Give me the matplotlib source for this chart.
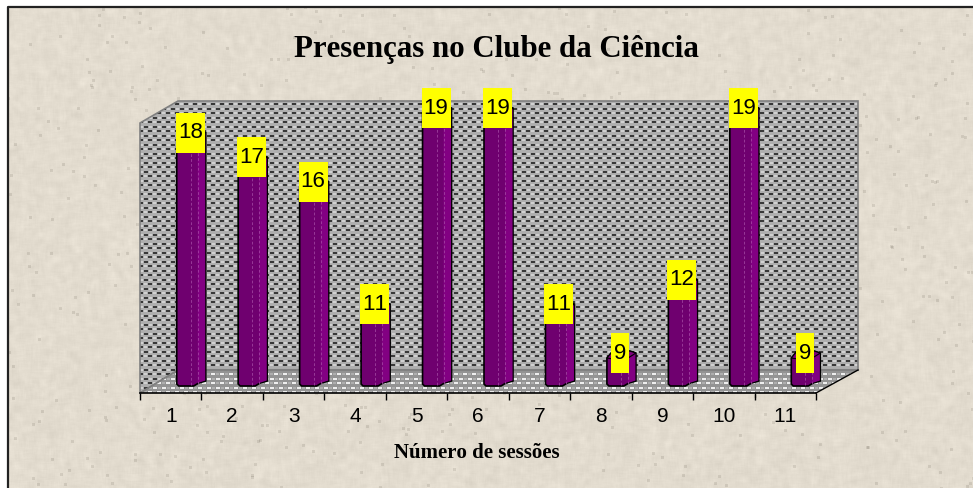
#!/usr/bin/env python3
# Presencas no Clube da Ciencia - fake 3D column chart
import numpy as np
import matplotlib
matplotlib.use("Agg")
from matplotlib import pyplot as plt
from matplotlib.patches import Polygon, Rectangle

plt.rcParams["text.kerning_factor"] = 16   # the original has no kerning, "11" stays wide

sessions = [1, 2, 3, 4, 5, 6, 7, 8, 9, 10, 11]
presences = [18, 17, 16, 11, 19, 19, 11, 9, 12, 19, 9]
title = "Presenças no Clube da Ciência"
xlabel = "Número de sessões"

W, H = 973, 488
AX_L, AX_R, AX_BOTTOM, AX_TOP = 140, 816, 393, 123
BASE_Y = 386      # pixel row of the bars' foot
PX_PER_UNIT = 24.5
AXIS_MIN = 7.86

# paper background, no np.random, just a hash of the pixel position
def fract(a):
    return a - np.floor(a)

def blur(a, n):
    out = np.zeros_like(a)
    for i in range(-n, n + 1):
        for j in range(-n, n + 1):
            out += np.roll(np.roll(a, i, 0), j, 1)
    return out / (2 * n + 1) ** 2

yy, xx = np.mgrid[0:H, 0:W]
noise = fract(np.sin(xx * 12.9898 + yy * 78.233) * 43758.5453)
mottle = blur(noise, 3) - 0.5
specks = blur((noise > 0.9985).astype(float), 1)
paper = np.ones((H, W, 3)) * np.array([227, 220, 207])
paper += (mottle * 60 - specks * 180)[:, :, None]
paper[:7, :] = 255
paper[:, :8] = 255
paper = np.clip(paper, 0, 255).astype(np.uint8)

# staggered dash pattern of the chart walls, about 9 px across and 4.5 px down
def tile_image(w, h, base, dash, spot):
    img = np.full((h, w), base, dtype=float)
    for n, row in enumerate(np.arange(0, h, 4.5).astype(int)):
        shift = 0 if n % 2 == 0 else 4
        for col in range(0, w + 9, 9):
            left = col + shift - 9
            img[row:row + 2, max(left, 0):max(left + 4, 0)] = dash
            img[row:row + 2, max(left + 5, 0):max(left + 8, 0)] = spot
    return img

fig = plt.figure(figsize=(W / 100, H / 100), dpi=100)

# backdrop axes in pixel coordinates: paper, frame, walls and floor
bg = fig.add_axes([0, 0, 1, 1], zorder=0)
bg.imshow(paper, extent=(0, W, H, 0), interpolation="nearest", aspect="auto")

wall_pts = [(140, 393), (140, 123), (178, 101), (858, 101), (858, 370), (178, 370)]
floor_pts = [(140, 393), (178, 370), (858, 370), (816, 393)]
wall = bg.imshow(tile_image(W, H, 0.68, 0.22, 0.82), cmap="gray", vmin=0, vmax=1,
                 extent=(0, W, H, 0), interpolation="nearest", aspect="auto")
wall.set_clip_path(Polygon(wall_pts, transform=bg.transData))
floor = bg.imshow(tile_image(W, H, 0.58, 0.93, 0.68), cmap="gray", vmin=0, vmax=1,
                  extent=(0, W, H, 0), interpolation="nearest", aspect="auto")
floor.set_clip_path(Polygon(floor_pts, transform=bg.transData))

bg.add_patch(Polygon(wall_pts, closed=True, fill=False, ec="#808080", lw=1.2))
bg.plot([140, 178], [393, 370], color="#808080", lw=1)
bg.plot([178, 858], [370, 370], color="#808080", lw=1.5)
bg.plot([816, 858], [393, 370], color="black", lw=1)
bg.plot([8, 8, W], [H, 7, 7], color="#222222", lw=1.6)
bg.set_xlim(0, W)
bg.set_ylim(H, 0)
bg.axis("off")

# real chart axes, sitting on the front plane of the fake 3D box
ax = fig.add_axes([AX_L / W, 1 - AX_BOTTOM / H, (AX_R - AX_L) / W, (AX_BOTTOM - AX_TOP) / H],
                  zorder=1)
ax.patch.set_alpha(0)
ax.set_xlim(0.5, 11.5)
px_x = (AX_R - AX_L) / 11
ymin = AXIS_MIN - (AX_BOTTOM - BASE_Y) / PX_PER_UNIT
ax.set_ylim(ymin, ymin + (AX_BOTTOM - AX_TOP) / PX_PER_UNIT)

def X(cat, px):
    return cat + px / px_x

def Y(val, px):
    # px counts upward on the picture
    return val + px / PX_PER_UNIT

BAR_LEFT = 6      # px from the category centre on the front plane
for cat, val in zip(sessions, presences):
    x0 = cat + BAR_LEFT / px_x
    outline = [(X(x0, 0), Y(val, 0)), (X(x0, 0), Y(AXIS_MIN, 2)), (X(x0, 2), Y(AXIS_MIN, 0)),
               (X(x0, 17), Y(AXIS_MIN, 0)), (X(x0, 22), Y(AXIS_MIN, 3)), (X(x0, 29), Y(AXIS_MIN, 5)),
               (X(x0, 29), Y(val, 5)), (X(x0, 23), Y(val, 7)), (X(x0, 5), Y(val, 6))]
    ax.add_patch(Polygon(outline, closed=True, fc="#6f006f", ec="black", lw=1.2, zorder=3,
                         clip_on=False))
    side = [(X(x0, 21), Y(val, 0)), (X(x0, 21), Y(AXIS_MIN, 3)), (X(x0, 28.5), Y(AXIS_MIN, 5.5)),
            (X(x0, 28.5), Y(val, 5))]
    ax.add_patch(Polygon(side, closed=True, fc="#820082", ec="none", zorder=3.1, clip_on=False))
    top = [(X(x0, 0), Y(val, 0)), (X(x0, 5), Y(val, 6)), (X(x0, 23), Y(val, 7)),
           (X(x0, 29), Y(val, 5)), (X(x0, 21), Y(val, 0)), (X(x0, 8), Y(val, -1))]
    ax.add_patch(Polygon(top, closed=True, fc="#7d007d", ec="black", lw=0.8, zorder=3.2,
                         clip_on=False))
    ax.plot([X(x0, 14), X(x0, 14)], [Y(AXIS_MIN, 1), Y(val, 0)], color="#a850a8",
            lw=0.5, ls=(0, (4, 3)), zorder=3.3, clip_on=False)
    ax.plot([X(x0, 21), X(x0, 21)], [Y(AXIS_MIN, 2), Y(val, 0)], color="#a850a8",
            lw=0.5, ls=(0, (4, 3)), zorder=3.3, clip_on=False)

    # yellow value label, narrower for one digit
    box_w = 29 if val >= 10 else 18
    cx = X(x0, 13.5)
    ax.add_patch(Rectangle((X(cx, -box_w / 2), Y(val, -15)), box_w / px_x, 40 / PX_PER_UNIT,
                           fc="#ffff00", ec="none", zorder=4, clip_on=False))
    ax.text(cx, Y(val, 5), str(val), ha="center", va="center", fontsize=16,
            family="Liberation Sans", color="black", zorder=5, clip_on=False)

for s in ["top", "right", "left"]:
    ax.spines[s].set_visible(False)
ax.spines["bottom"].set_color("black")
ax.spines["bottom"].set_linewidth(1.2)
ax.set_yticks([])
ax.set_xticks(sessions)
ax.set_xticklabels(sessions, fontsize=15, family="Liberation Sans")
ax.set_xticks(np.arange(0.5, 12), minor=True)
ax.tick_params(axis="x", which="major", length=0, pad=10)
ax.tick_params(axis="x", which="minor", length=5, width=1, color="black", direction="out")

fig.text(496 / W, 1 - 49 / H, title, ha="center", va="center", fontsize=22.2,
         family="Liberation Serif", weight="bold")
fig.text(477 / W, 1 - 453 / H, xlabel, ha="center", va="center", fontsize=15,
         family="Liberation Serif", weight="bold")

fig.savefig("out.png", dpi=100)
